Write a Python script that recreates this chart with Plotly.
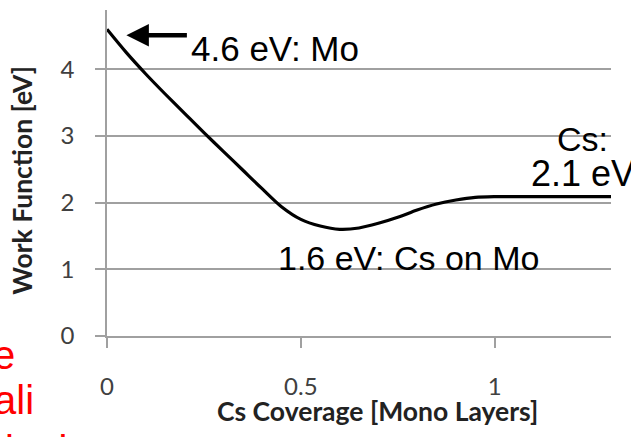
import plotly.graph_objects as go

# ---- data ----
coverage = [0, 0.05, 0.1, 0.15, 0.2, 0.25, 0.3, 0.35, 0.4, 0.45, 0.5, 0.55,
            0.6, 0.65, 0.7, 0.75, 0.8, 0.85, 0.9, 0.95, 1.0, 1.1, 1.2, 1.3]
work_function = [4.6, 4.25, 3.93, 3.63, 3.34, 3.05, 2.77, 2.49, 2.21, 1.94,
                 1.75, 1.65, 1.60, 1.62, 1.69, 1.78, 1.89, 1.98, 2.04, 2.08,
                 2.09, 2.09, 2.09, 2.09]
x_tick_vals = [0, 0.5, 1]
x_tick_text = ["0", "0.5", "1"]
y_tick_vals = [0, 1, 2, 3, 4]
y_tick_text = ["0", "1", "2", "3", "4"]
x_title = "Cs Coverage [Mono Layers]"
y_title = "Work Function [eV]"

W, H = 631, 437
ML, MR, MT, MB = 107, 19.5, 10, 100.5
PW, PH = W - ML - MR, H - MT - MB
X_MAX, Y_MAX = 1.3, 4.89


def px_x(p):
    return (p - ML) / PW


def px_y(p):
    return (H - MB - p) / PH


GRID = "#a0a0a0"
NARROW = "Liberation Sans Narrow, Arial Narrow, Liberation Sans, Arial"
LABEL = "Lato, Open Sans, sans-serif"
RED_FONT = dict(family="Liberation Sans, Arial", size=40, color="#ff0000")
TITLE_FONT = dict(family=LABEL, size=26.5, color="#222222", weight="bold")

fig = go.Figure()
fig.add_trace(go.Scatter(
    x=coverage, y=work_function, mode="lines",
    line=dict(color="black", width=3.2, shape="spline", smoothing=0.8),
    showlegend=False, hoverinfo="skip"))

annotations = [
    # axis titles
    dict(x=px_x(378), y=px_y(412), xref="paper", yref="paper",
         text=x_title, showarrow=False, xanchor="center", yanchor="middle",
         font=TITLE_FONT),
    dict(x=px_x(22), y=px_y(181), xref="paper", yref="paper",
         text=y_title, showarrow=False, xanchor="center", yanchor="middle",
         textangle=-90, font=TITLE_FONT),
    # arrow pointing to the Mo value
    dict(x=0.05, y=4.513, xref="x", yref="y", text="", showarrow=True,
         ax=62, ay=0, arrowhead=2, arrowwidth=4.5, arrowsize=1.0,
         arrowcolor="black", standoff=0),
    dict(x=px_x(189), y=px_y(49), xref="paper", yref="paper",
         text="4.6 eV: Mo", showarrow=False, xanchor="left", yanchor="middle",
         font=dict(family=NARROW, size=35, color="black")),
    dict(x=px_x(583), y=px_y(139), xref="paper", yref="paper",
         text="Cs:", showarrow=False, xanchor="center", yanchor="middle",
         font=dict(family=NARROW, size=34, color="black")),
    dict(x=px_x(583), y=px_y(174), xref="paper", yref="paper",
         text="2.1 eV", showarrow=False, xanchor="center", yanchor="middle",
         font=dict(family=NARROW, size=36, color="black")),
    dict(x=px_x(276), y=px_y(258), xref="paper", yref="paper",
         text="1.6 eV: Cs on Mo", showarrow=False, xanchor="left", yanchor="middle",
         font=dict(family=NARROW, size=34, color="black")),
    # partially visible red slide text at the lower left
    dict(x=px_x(17), y=px_y(356), xref="paper", yref="paper",
         text="e", showarrow=False, xanchor="right", yanchor="middle",
         font=RED_FONT),
    dict(x=px_x(36), y=px_y(401), xref="paper", yref="paper",
         text="ali", showarrow=False, xanchor="right", yanchor="middle",
         font=RED_FONT),
    dict(x=px_x(3), y=px_y(451), xref="paper", yref="paper",
         text="ioni", showarrow=False, xanchor="left", yanchor="middle",
         font=RED_FONT),
]

fig.update_layout(
    template="none",
    width=W, height=H,
    margin=dict(l=ML, r=MR, t=MT, b=MB, pad=0),
    paper_bgcolor="white", plot_bgcolor="white",
    showlegend=False,
    annotations=annotations,
    xaxis=dict(
        range=[0, X_MAX], tickvals=x_tick_vals, ticktext=x_tick_text,
        showgrid=False, zeroline=False, showline=True, linecolor=GRID,
        linewidth=1.5, ticks="outside", ticklen=10, tickwidth=1.5,
        tickcolor=GRID, ticklabelstandoff=18, automargin=False,
        tickfont=dict(family=LABEL, size=24, color="#404040"),
    ),
    yaxis=dict(
        range=[0, Y_MAX], tickvals=y_tick_vals, ticktext=y_tick_text,
        showgrid=True, gridcolor=GRID, gridwidth=1.5, zeroline=False,
        showline=True, linecolor=GRID, linewidth=1.5, ticks="outside",
        ticklen=10, tickwidth=1.5, tickcolor=GRID, ticklabelstandoff=16,
        automargin=False,
        tickfont=dict(family=LABEL, size=24, color="#404040"),
    ),
)

fig.write_html("out.html")
